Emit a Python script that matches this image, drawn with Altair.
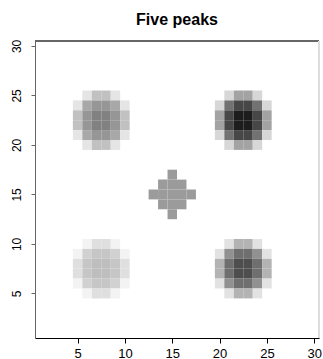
import altair as alt
import pandas as pd

# Grid cells are unit squares centred on integer positions 1..30.
GRID_MIN, GRID_MAX = 0.5, 30.5
TICKS = [5, 10, 15, 20, 25, 30]

# Ring index of each cell in a 6x6 block around a peak (top row first);
# -1 marks empty corners. Ring k collects cells at the same distance.
RING_TEMPLATE = [
    [-1, 4, 3, 3, 4, -1],
    [4, 2, 1, 1, 2, 4],
    [3, 1, 0, 0, 1, 3],
    [3, 1, 0, 0, 1, 3],
    [4, 2, 1, 1, 2, 4],
    [-1, 4, 3, 3, 4, -1],
]

# Peaks: lower-left cell of each 6x6 block and the height of rings 0..4.
peak_names = ["upper left", "upper right", "lower left", "lower right"]
peak_x0 = [5, 20, 5, 20]
peak_y0 = [20, 20, 5, 5]
peak_heights = [
    [46, 38, 31, 22, 9],
    [89, 70, 52, 33, 14],
    [23, 20, 16, 11, 4],
    [67, 53, 40, 27, 10],
]

# Central plateau: a diamond of cells with one constant height.
plateau_x = [15, 14, 15, 16, 13, 14, 15, 16, 17, 14, 15, 16, 15]
plateau_y = [17, 16, 16, 16, 15, 15, 15, 15, 15, 14, 14, 14, 13]
plateau_height = 36

rows = []
for name, x0, y0, heights in zip(peak_names, peak_x0, peak_y0, peak_heights):
    for r, line in enumerate(RING_TEMPLATE):
        for c, ring in enumerate(line):
            if ring < 0:
                continue
            rows.append({"peak": name, "col": x0 + c, "row": y0 + 5 - r,
                         "z": heights[ring]})
for cx, cy in zip(plateau_x, plateau_y):
    rows.append({"peak": "centre", "col": cx, "row": cy, "z": plateau_height})

df = pd.DataFrame(rows)
df["x_lo"] = df["col"] - 0.5
df["x_hi"] = df["col"] + 0.5
df["y_lo"] = df["row"] - 0.5
df["y_hi"] = df["row"] + 0.5

W, H = 284, 297
FONT = "Liberation Sans"

xscale = alt.Scale(domain=[GRID_MIN, GRID_MAX], nice=False, zero=False)
yscale = alt.Scale(domain=[GRID_MIN, GRID_MAX], nice=False, zero=False)

cells = alt.Chart(df).mark_rect(stroke=None).encode(
    x=alt.X("x_lo:Q", scale=xscale, title=None,
            axis=alt.Axis(values=TICKS, grid=False, domainColor="#000000",
                          tickColor="#000000", tickSize=5, labelPadding=4,
                          labelFontSize=13, labelColor="#000000",
                          labelFont=FONT, labelFlush=False)),
    x2="x_hi:Q",
    y=alt.Y("y_lo:Q", scale=yscale, title=None,
            axis=alt.Axis(values=TICKS, grid=False, domainColor="#666666",
                          tickColor="#666666", tickSize=4, labelAngle=-90,
                          labelAlign="center", labelBaseline="bottom",
                          labelPadding=8, labelFontSize=12,
                          labelColor="#000000", labelFont=FONT,
                          labelFlush=False)),
    y2="y_hi:Q",
    color=alt.Color("z:Q", legend=None,
                    scale=alt.Scale(domain=[0, 100],
                                    range=["#ffffff", "#000000"])),
)

# Frame lines along the top and right of the plot area.
top_edge = alt.Chart(df).mark_rule(color="#666666", strokeWidth=1).encode(
    x=alt.value(0), x2=alt.value(W), y=alt.value(0))
right_edge = alt.Chart(df).mark_rule(color="#dddddd", strokeWidth=1).encode(
    x=alt.value(W), y=alt.value(0), y2=alt.value(H))

chart = alt.layer(cells, top_edge, right_edge).properties(
    width=W, height=H,
    title=alt.Title("Five peaks", fontSize=16, fontWeight="bold", font=FONT,
                    anchor="middle", frame="group", baseline="alphabetic",
                    offset=18, dy=20, color="#000000"),
    autosize=alt.AutoSizeParams(type="none"),
    padding={"left": 35, "top": 41, "right": 4, "bottom": 21},
).configure_view(stroke=None).configure(background="#ffffff")

chart.save("out.html", embed_options={"renderer": "svg", "actions": False})
